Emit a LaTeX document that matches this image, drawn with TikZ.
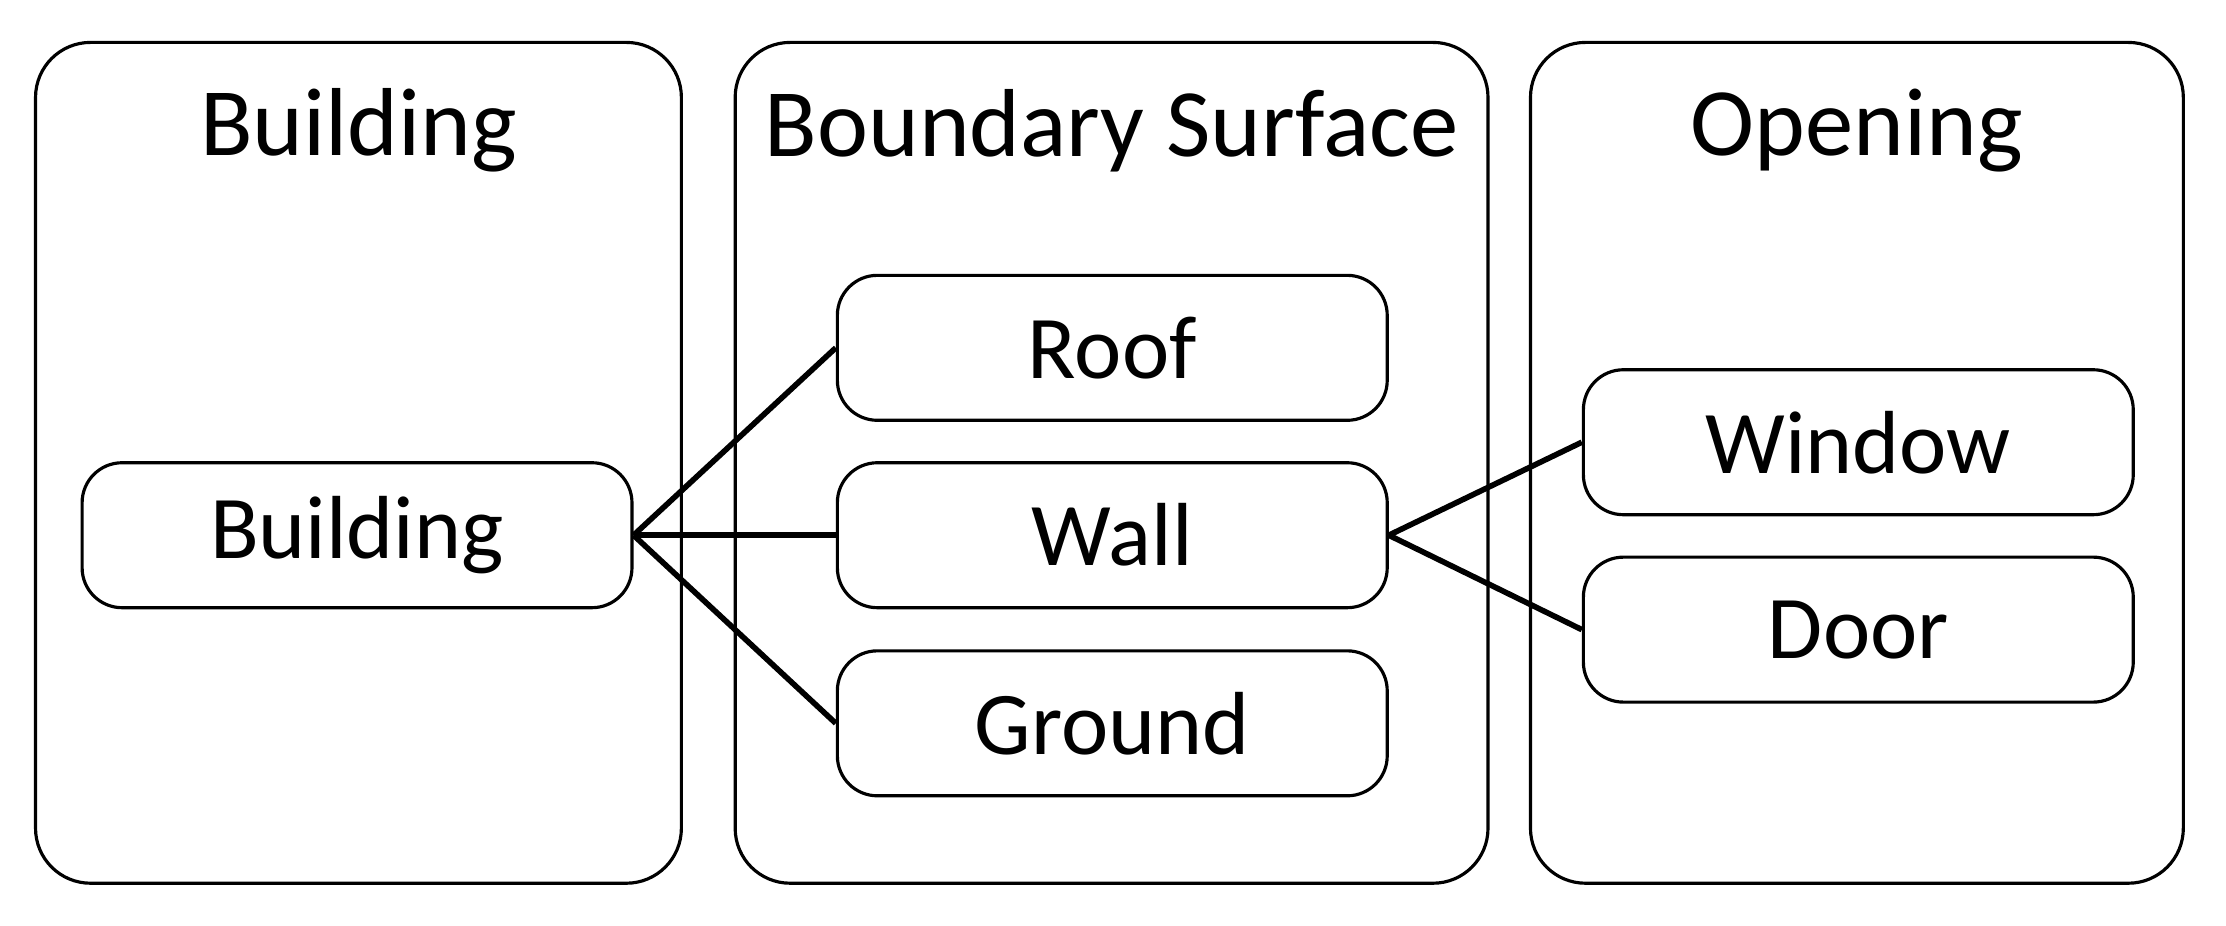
\documentclass[tikz,border=0pt]{standalone}
\usepackage{fontspec}
\setmainfont{Carlito}
\begin{document}
\begin{tikzpicture}[x=0.142mm,y=-0.142mm,
  panel/.style={draw,line width=0.9pt,rounded corners=5.5mm,minimum height=84.1mm,inner sep=0pt},
  item/.style={draw,line width=0.9pt,rounded corners=4mm,minimum width=55mm,minimum height=14.5mm,font=\fontsize{25.5}{30}\selectfont},
  ttl/.style={font=\fontsize{27.5}{32}\selectfont},
  conn/.style={line width=1.6pt}]
\useasboundingbox (0,0) rectangle (1568,652);
\node[panel,minimum width=64.6mm] (p1) at (252.5,326) {};
\node[panel,minimum width=75.3mm] (p2) at (783,326) {};
\node[panel,minimum width=65.3mm] (p3) at (1308,326) {};
\node[ttl] (t1) at (252.5,92) {Building};
\node[ttl] (t2) at (783,92) {Boundary Surface};
\node[ttl] (t3) at (1308,92) {Opening};
\node[item] (b) at (251.5,377) {Building};
\node[item] (r) at (783.5,245) {Roof};
\node[item] (w) at (783.5,377) {Wall};
\node[item] (g) at (783.5,509.5) {Ground};
\node[item] (wi) at (1309,311.5) {Window};
\node[item] (d) at (1309,443.5) {Door};
\draw[conn] (b.east) -- (r.west);
\draw[conn] (b.east) -- (w.west);
\draw[conn] (b.east) -- (g.west);
\draw[conn] (w.east) -- (wi.west);
\draw[conn] (w.east) -- (d.west);
\end{tikzpicture}
\end{document}
